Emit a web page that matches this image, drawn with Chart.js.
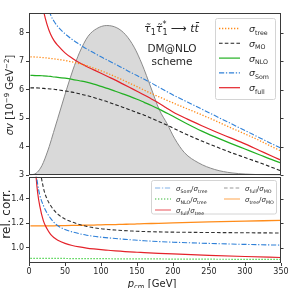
<!DOCTYPE html>
<html><head><meta charset="utf-8">
<script src="https://cdn.jsdelivr.net/npm/chart.js@4.4.1/dist/chart.umd.min.js"></script>
<style>
html,body{margin:0;padding:0;background:#fff;overflow:hidden}
#wrap{position:relative;width:293px;height:288px;background:#fff}
canvas{position:absolute;left:0}
#c1{top:0}
#c2{top:170px}
</style></head><body>
<div id="wrap"><canvas id="c1" width="293" height="182"></canvas><canvas id="c2" width="293" height="118"></canvas></div>
<script>
// ---------- data ----------
const P_TOP = [2,10,15,20,25,30,35,40,50,60,70,80,90,100,110,120,130,140,150,160,170,180,190,200,220,240,260,280,300,320,340,350];
const SIG_TREE = [7.16,7.15,7.14,7.13,7.12,7.10,7.09,7.07,7.03,6.98,6.92,6.85,6.76,6.67,6.57,6.46,6.35,6.23,6.11,5.99,5.87,5.76,5.65,5.54,5.33,5.12,4.90,4.67,4.45,4.22,3.97,3.85];
const SIG_MO   = [6.07,6.07,6.06,6.05,6.04,6.03,6.02,6.00,5.96,5.92,5.86,5.80,5.73,5.65,5.57,5.48,5.39,5.30,5.20,5.11,5.00,4.89,4.78,4.66,4.42,4.20,4.00,3.80,3.62,3.44,3.25,3.15];
const SIG_NLO  = [6.51,6.50,6.50,6.49,6.48,6.47,6.45,6.44,6.41,6.37,6.32,6.27,6.20,6.12,6.04,5.95,5.86,5.77,5.67,5.56,5.45,5.33,5.20,5.07,4.80,4.55,4.33,4.12,3.92,3.72,3.52,3.43];
const SIG_SOM  = [null,null,null,9.80,9.10,8.64,8.40,8.22,7.97,7.77,7.60,7.44,7.30,7.16,7.03,6.90,6.77,6.63,6.50,6.37,6.24,6.10,5.96,5.82,5.57,5.32,5.07,4.82,4.57,4.32,4.07,3.95];
const SIG_FULL = [null,null,9.60,8.80,8.30,7.95,7.72,7.56,7.30,7.11,6.95,6.82,6.70,6.58,6.46,6.34,6.21,6.08,5.95,5.82,5.68,5.54,5.38,5.22,4.97,4.74,4.52,4.31,4.10,3.87,3.64,3.53];
const DIST_P = [0,5,10,16,20,28,34,40,46,52,61,70,82,94,108,122,134,146,157,169,181,192,202,216,235,258,282,319,350];
const DIST_V = [3.0,3.02,3.07,3.25,3.45,4.0,4.5,5.0,5.5,6.0,6.7,7.3,7.88,8.15,8.26,8.18,7.94,7.5,6.9,6.1,5.3,4.8,4.3,3.79,3.44,3.2,3.08,3.02,3.0];

const P_BOT = [2,8,10,12,15,20,25,30,35,40,50,60,70,80,90,100,110,120,130,140,150,160,180,200,250,300,350];
const R_SOM_TREE  = [null,1.80,1.62,1.52,1.43,1.345,1.285,1.24,1.205,1.18,1.15,1.13,1.115,1.103,1.094,1.087,1.081,1.076,1.071,1.066,1.062,1.058,1.051,1.046,1.036,1.028,1.022];
const R_NLO_TREE  = [0.914,0.914,0.914,0.914,0.914,0.914,0.914,0.913,0.913,0.913,0.913,0.912,0.912,0.912,0.911,0.911,0.911,0.910,0.910,0.910,0.909,0.909,0.909,0.908,0.907,0.906,0.905];
const R_FULL_TREE = [null,1.75,1.57,1.45,1.34,1.22,1.155,1.11,1.082,1.062,1.036,1.019,1.007,0.998,0.991,0.985,0.980,0.975,0.971,0.967,0.964,0.961,0.955,0.950,0.939,0.929,0.921];
const R_FULL_MO   = [null,null,null,1.95,1.68,1.49,1.40,1.345,1.305,1.275,1.235,1.21,1.19,1.175,1.164,1.156,1.15,1.145,1.141,1.138,1.135,1.133,1.13,1.128,1.125,1.123,1.121];
const R_TREE_MO   = [1.18,1.18,1.18,1.18,1.18,1.18,1.18,1.18,1.18,1.181,1.182,1.183,1.184,1.185,1.186,1.188,1.189,1.19,1.192,1.193,1.195,1.197,1.20,1.204,1.212,1.218,1.224];

const TOP_TICKS = [3,4,5,6,7,8];
const BOT_TICKS = [1.0,1.2,1.4];
const X_TICKS = [0,50,100,150,200,250,300,350];

// ---------- style ----------
const F = 'DejaVu Sans';
const TXT = '#262626', AX = '#3a3a3a';
const C_ORANGE = '#ff8c1a', C_BLACK = '#222222', C_GREEN = '#22b022', C_BLUE = '#2f80d8', C_RED = '#e4222a';
const DOT = [1.3,1.7], DASH = [3.6,2.2], DASHDOT = [5.2,1.7,1.3,1.7];

function pts(xs, ys){ return xs.map((x,i)=>({x:x, y:ys[i]})); }
function line(label, xs, ys, color, dash, w){
  return {label, data: pts(xs, ys), borderColor: color, backgroundColor: color, borderDash: dash||[],
    borderWidth: w||1.1, pointRadius: 0, fill: false, cubicInterpolationMode: 'monotone', order: 1};
}

function rich(ctx, parts, x, y, align){
  let w = 0;
  for (const p of parts){ if (p.noadv) continue; ctx.font = p.f; w += ctx.measureText(p.t).width; }
  let cx = align === 'center' ? x - w/2 : (align === 'right' ? x - w : x);
  ctx.textAlign = 'left'; ctx.textBaseline = 'alphabetic';
  for (const p of parts){
    ctx.font = p.f; ctx.fillText(p.t, cx, y + (p.dy||0));
    if (!p.noadv) cx += ctx.measureText(p.t).width;
  }
}
function sig(sub, big, small, dy){
  return [{t:'σ', f:'italic '+big+'px '+F}, {t:sub, f:small+'px '+F, dy:dy}];
}

const frame = {
  id: 'frame',
  afterDatasetsDraw(chart){
    const {ctx, chartArea: a} = chart;
    ctx.save();
    ctx.strokeStyle = AX; ctx.lineWidth = 1;
    const l = Math.round(a.left)+0.5, r = Math.round(a.right)-0.5, t = Math.round(a.top)+0.5, b = Math.round(a.bottom)-0.5;
    ctx.strokeRect(l, t, r-l, b-t);
    const ys = chart.scales.y;
    ctx.beginPath();
    for (const tk of ys.ticks){
      const py = Math.round(ys.getPixelForValue(tk.value))+0.5;
      ctx.moveTo(r, py); ctx.lineTo(r+3, py);
    }
    ctx.stroke();
    ctx.restore();
  }
};

const topText = {
  id: 'topText',
  afterDraw(chart){
    const ctx = chart.ctx;
    ctx.save(); ctx.fillStyle = TXT;
    const m = 'italic 11px '+F, s = '8px '+F;
    rich(ctx, [
      {t:'τ\u0303', f:m}, {t:'1', f:s, dy:3},
      {t:'τ\u0303', f:m}, {t:'*', f:s, dy:-5, noadv:true}, {t:'1', f:s, dy:3},
      {t:' \u27F6 ', f:'11px '+F}, {t:'t', f:m}, {t:'t\u0304', f:m}
    ], 171.5, 32, 'center');
    rich(ctx, [{t:'DM@NLO', f:'10.5px '+F}], 172, 52, 'center');
    rich(ctx, [{t:'scheme', f:'10.5px '+F}], 172, 65, 'center');
    ctx.translate(13, 95); ctx.rotate(-Math.PI/2);
    rich(ctx, [
      {t:'σ', f:'italic 10px '+F}, {t:'v', f:'italic 10px '+F}, {t:' [10', f:'10px '+F},
      {t:'\u22129', f:'7px '+F, dy:-4}, {t:' GeV', f:'10px '+F}, {t:'\u22122', f:'7px '+F, dy:-4}, {t:']', f:'10px '+F}
    ], 0, 0, 'center');
    ctx.restore();
    ctx.save();
    const L = {x:215, y:18.5, w:60, h:81};
    ctx.fillStyle = 'rgba(255,255,255,0.85)'; ctx.strokeStyle = '#d4d4d4'; ctx.lineWidth = 1;
    ctx.beginPath(); ctx.roundRect(L.x+0.5, L.y, L.w, L.h, 2); ctx.fill(); ctx.stroke();
    const items = [['tree', C_ORANGE, DOT, 1.3], ['MO', C_BLACK, DASH, 1.1], ['NLO', C_GREEN, [], 1.2], ['Som', C_BLUE, DASHDOT, 1.1], ['full', C_RED, [], 1.2]];
    items.forEach((it, i) => {
      const y = 28.5 + i*14.8;
      ctx.strokeStyle = it[1]; ctx.setLineDash(it[2]); ctx.lineWidth = it[3];
      ctx.beginPath(); ctx.moveTo(219, y); ctx.lineTo(240, y); ctx.stroke();
      ctx.setLineDash([]); ctx.fillStyle = TXT;
      rich(ctx, sig(it[0], 9.5, 6.3, 2.5), 249, y+3.5, 'left');
    });
    ctx.restore();
  }
};

const botText = {
  id: 'botText',
  afterDraw(chart){
    const ctx = chart.ctx;
    ctx.save(); ctx.fillStyle = TXT;
    rich(ctx, [{t:'p', f:'italic 10px '+F}, {t:'cm', f:'7px '+F, dy:2.5}, {t:' [GeV]', f:'10px '+F}], 152, 116.5, 'center');
    ctx.translate(9.5, 44); ctx.rotate(-Math.PI/2);
    rich(ctx, [{t:'rel. corr.', f:'12px '+F}], 0, 0, 'center');
    ctx.restore();
    ctx.save();
    const oy = 170;
    ctx.fillStyle = 'rgba(255,255,255,0.85)'; ctx.strokeStyle = '#d4d4d4'; ctx.lineWidth = 1;
    ctx.beginPath(); ctx.roundRect(151.5, 180.5-oy, 125, 33.5, 2); ctx.fill(); ctx.stroke();
    const items = [
      [155, 188, 'Som','tree', C_BLUE, DASHDOT, 1.2],
      [155, 199, 'NLO','tree', C_GREEN, DOT, 1.3],
      [155, 210, 'full','tree', C_RED, [], 1.3],
      [224, 188, 'full','MO', '#555555', DASH, 1.2],
      [224, 199, 'tree','MO', C_ORANGE, [], 1.3]
    ];
    for (const it of items){
      const y = it[1]-oy;
      ctx.globalAlpha = 0.6;
      ctx.strokeStyle = it[4]; ctx.setLineDash(it[5]); ctx.lineWidth = it[6];
      ctx.beginPath(); ctx.moveTo(it[0], y); ctx.lineTo(it[0]+16, y); ctx.stroke();
      ctx.globalAlpha = 1; ctx.setLineDash([]); ctx.fillStyle = TXT;
      rich(ctx, [...sig(it[2], 7, 4.8, 2), {t:'/', f:'7px '+F}, ...sig(it[3], 7, 4.8, 2)], it[0]+21, y+2.5, 'left');
    }
    ctx.restore();
  }
};

function yScale(min, max, ticks, fmt){
  return {
    type: 'linear', min, max,
    afterFit(s){ s.width = 29; },
    afterBuildTicks(s){ s.ticks = ticks.map(v => ({value: v})); },
    ticks: {font: {family: F, size: 8}, color: TXT, padding: 2, callback: fmt},
    grid: {display: true, drawOnChartArea: false, drawTicks: true, tickLength: 3, color: AX},
    border: {display: false}
  };
}

new Chart(document.getElementById('c1'), {
  type: 'line',
  data: { datasets: [
    line('tree', P_TOP, SIG_TREE, C_ORANGE, DOT, 1.3),
    line('MO', P_TOP, SIG_MO, C_BLACK, DASH, 1.1),
    line('NLO', P_TOP, SIG_NLO, C_GREEN, [], 1.2),
    line('Som', P_TOP, SIG_SOM, C_BLUE, DASHDOT, 1.1),
    line('full', P_TOP, SIG_FULL, C_RED, [], 1.2),
    {label: 'dist', data: pts(DIST_P, DIST_V), fill: 'start', backgroundColor: '#d9d9d9', borderColor: '#8a8a8a',
     borderWidth: 1, pointRadius: 0, cubicInterpolationMode: 'monotone', order: 5}
  ]},
  options: {
    responsive: false, animation: false, devicePixelRatio: 1, events: [],
    layout: {padding: {left: 0, right: 12, top: 13, bottom: 6}},
    plugins: {legend: {display: false}, tooltip: {enabled: false}},
    scales: {
      x: {type: 'linear', min: 0, max: 350, display: false},
      y: yScale(3, 8.7, TOP_TICKS, v => String(v))
    }
  },
  plugins: [frame, topText]
});

new Chart(document.getElementById('c2'), {
  type: 'line',
  data: { datasets: [
    line('Som/tree', P_BOT, R_SOM_TREE, C_BLUE, DASHDOT, 1.1),
    line('NLO/tree', P_BOT, R_NLO_TREE, '#33cc33', DOT, 1.2),
    line('full/tree', P_BOT, R_FULL_TREE, C_RED, [], 1.2),
    line('full/MO', P_BOT, R_FULL_MO, '#333333', DASH, 1.1),
    line('tree/MO', P_BOT, R_TREE_MO, C_ORANGE, [], 1.3)
  ]},
  options: {
    responsive: false, animation: false, devicePixelRatio: 1, events: [],
    layout: {padding: {left: 0, right: 12, top: 6, bottom: 0}},
    plugins: {legend: {display: false}, tooltip: {enabled: false}},
    scales: {
      x: {type: 'linear', min: 0, max: 350,
          afterFit(s){ s.height = 25; },
          afterBuildTicks(s){ s.ticks = X_TICKS.map(v => ({value: v})); },
          ticks: {font: {family: F, size: 8}, color: TXT, padding: 1, maxRotation: 0},
          grid: {display: true, drawOnChartArea: false, drawTicks: true, tickLength: 3, color: AX},
          border: {display: false}},
      y: yScale(0.876, 1.58, BOT_TICKS, v => v.toFixed(1))
    }
  },
  plugins: [frame, botText]
});
</script>
</body></html>
